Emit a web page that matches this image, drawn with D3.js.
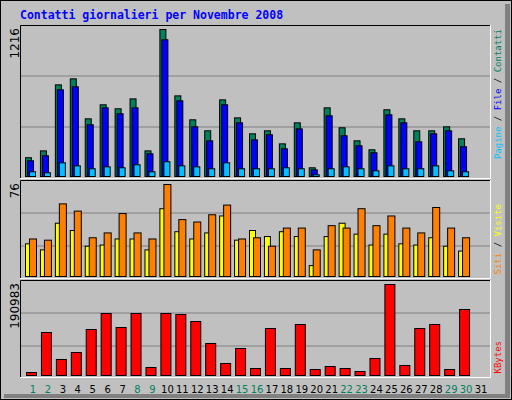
<!DOCTYPE html>
<html>
<head>
<meta charset="UTF-8">
<script src="https://d3js.org/d3.v7.min.js"></script>
<style>body{margin:0;background:#fff}</style>
</head>
<body>
<script>
/* Data */
var days = d3.range(1, 32)
var weekend = [1, 2, 8, 9, 15, 16, 22, 23, 29, 30]
var hits  = [155,212,758,808,477,593,560,642,212,1216,667,469,378,634,485,353,378,270,444,72,568,403,295,221,552,477,378,378,411,312,0]
var files = [130,171,717,742,428,568,519,568,188,1131,626,411,295,593,444,303,345,229,394,55,502,337,254,196,510,444,287,353,378,246,0]
var pages = [39,31,113,88,64,80,72,97,39,122,88,80,64,113,64,64,64,72,64,14,64,80,64,47,88,64,64,88,47,39,0]
var sites  = [27,22,44,38,25,26,31,31,22,56,37,31,36,50,30,38,33,37,33,9,33,44,35,26,35,27,26,32,25,21,0]
var visits = [31,30,60,54,32,36,52,36,31,76,47,45,51,59,31,32,25,40,40,22,42,40,56,42,50,40,36,57,40,32,0]
var kbytes = [6296,90250,33580,48270,96540,130120,100740,130120,16790,130120,128030,113330,67160,25190,56670,14690,98640,14690,107030,12590,18890,14690,8395,35680,190983,20990,98640,107030,12590,138520,0]
var title = 'Contatti giornalieri per Novembre 2008'

var W = 512, H = 400
var svg = d3.select('body').append('svg').attr('width', W).attr('height', H)
	.style('font-family', 'DejaVu Sans Mono')

svg.append('rect').attr('width', W).attr('height', H).attr('fill', '#c0c0c0')
svg.append('rect').attr('x', 505).attr('y', 4).attr('width', 5).attr('height', 394).attr('fill', '#808080')
svg.append('rect').attr('x', 4).attr('y', 394).attr('width', 506).attr('height', 4).attr('fill', '#808080')
svg.append('rect').attr('x', 0.5).attr('y', 0.5).attr('width', W - 1).attr('height', H - 1)
	.attr('fill', 'none').attr('stroke', 'black')

svg.append('text').attr('x', 20).attr('y', 19).text(title)
	.attr('fill', '#0000ff').attr('font-size', 11.5).attr('font-weight', 'bold')

var x = d3.scaleLinear().domain([1, 31]).range([33, 481])

/* Panel frame with gridlines */
function panel(y0, y1, g1, g2) {
	svg.append('rect').attr('x', 20).attr('y', y0).attr('width', 471).attr('height', y1 - y0)
		.attr('fill', '#c0c0c0')
	;[g1, g2].forEach(function(g) {
		svg.append('line').attr('x1', 21).attr('x2', 490).attr('y1', g).attr('y2', g)
			.attr('stroke', '#808080')
	})
	svg.append('path').attr('d', 'M20.5,' + y1 + 'V' + (y0 + 0.5) + 'H491')
		.attr('fill', 'none').attr('stroke', 'black')
	svg.append('path').attr('d', 'M20,' + (y1 + 0.5) + 'H490.5V' + y0)
		.attr('fill', 'none').attr('stroke', 'white')
}

function bars(data, y, offset, width, color) {
	svg.append('g').selectAll('rect').data(data.filter(function(d) { return d > 0 }))
		.enter().append('rect')
		.attr('x', function(d, i) { return x(days[i]) + offset + 0.5 })
		.attr('y', function(d) { return y(d) + 0.5 })
		.attr('width', width)
		.attr('height', function(d) { return y(0) - y(d) })
		.attr('fill', color).attr('stroke', 'black')
}

function yLabel(txt, y) {
	svg.append('text').attr('transform', 'translate(19,' + y + ') rotate(-90)')
		.attr('text-anchor', 'end').attr('font-size', 12).attr('font-family', 'DejaVu Sans')
		.text(txt)
}

function rightLabel(parts, y) {
	var t = svg.append('text').attr('transform', 'translate(501,' + y + ') rotate(-90)')
		.attr('text-anchor', 'end').attr('font-size', 9)
	parts.forEach(function(p) { t.append('tspan').attr('fill', p[1]).text(p[0]) })
}

// Top panel: hits / files / pages
panel(25, 178, 76, 127)
var y1 = d3.scaleLinear().domain([0, d3.max(hits)]).range([176, 29])
bars(hits, y1, -8, 6, '#00805c')
bars(files, y1, -6, 6, '#0000ff')
bars(pages, y1, -4, 6, '#00c0ff')
yLabel('1216', 28)
rightLabel([['Pagine', '#00c0ff'], [' / ', '#000'], ['File', '#0000ff'], [' / ', '#000'], ['Contatti', '#00805c']], 29)

// Middle panel: sites / visits
panel(180, 278, 213, 246)
var y2 = d3.scaleLinear().domain([0, d3.max(visits)]).range([276, 184])
bars(sites, y2, -8, 6, '#ffff00')
bars(visits, y2, -4, 7, '#ff8000')
yLabel('76', 183)
rightLabel([['Siti', '#ff8000'], [' / ', '#000'], ['Visite', '#ffff00']], 204)

// Bottom panel: kbytes
panel(280, 377, 313, 346)
var y3 = d3.scaleLinear().domain([0, d3.max(kbytes)]).range([375, 284])
bars(kbytes, y3, -7, 10, '#ff0000')
yLabel('190983', 283)
rightLabel([['KBytes', '#ff0000']], 341)

// Day labels
svg.append('g').selectAll('text').data(days).enter().append('text')
	.attr('x', function(d) { return x(d) }).attr('y', 393)
	.attr('text-anchor', 'middle').attr('font-size', 10).attr('font-family', 'DejaVu Sans')
	.attr('fill', function(d) { return weekend.indexOf(d) >= 0 ? '#00805c' : '#000' })
	.text(function(d) { return d })
</script>
</body>
</html>
